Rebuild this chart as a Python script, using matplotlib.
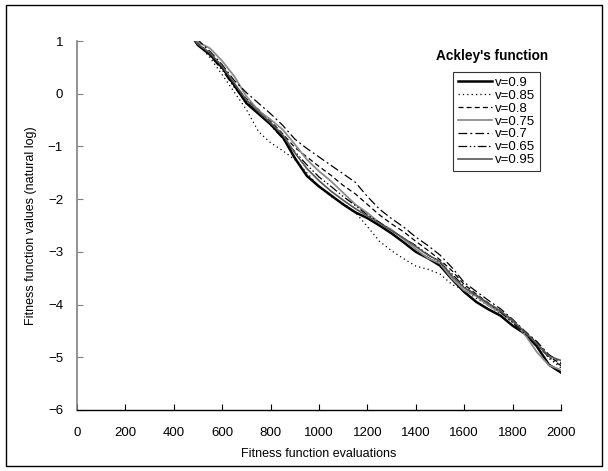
import matplotlib
matplotlib.use("Agg")
import matplotlib.pyplot as plt
from matplotlib.patches import Rectangle

plt.rcParams['font.family'] = ['Liberation Sans', 'DejaVu Sans']

evals = [450, 500, 550, 600, 650, 700, 750, 800, 850, 900, 950, 1000, 1050, 1100,
         1150, 1200, 1250, 1300, 1350, 1400, 1450, 1500, 1550, 1600, 1650, 1700,
         1750, 1800, 1850, 1900, 1950, 2000]

v090 = [1.25, 0.92, 0.74, 0.50, 0.16, -0.18, -0.38, -0.58, -0.82, -1.22, -1.56, -1.76,
        -1.93, -2.10, -2.25, -2.36, -2.50, -2.65, -2.82, -3.00, -3.12, -3.26, -3.52,
        -3.76, -3.95, -4.09, -4.21, -4.40, -4.55, -4.79, -5.14, -5.29]
v085 = [1.20, 0.95, 0.68, 0.36, 0.03, -0.30, -0.72, -0.93, -1.08, -1.25, -1.50, -1.76,
        -1.95, -2.08, -2.25, -2.52, -2.80, -2.98, -3.13, -3.27, -3.33, -3.42, -3.62,
        -3.72, -3.88, -4.02, -4.17, -4.33, -4.52, -4.72, -5.02, -5.20]
v080 = [1.22, 0.96, 0.76, 0.48, 0.18, -0.10, -0.30, -0.52, -0.76, -1.02, -1.20, -1.38,
        -1.55, -1.74, -1.90, -2.10, -2.30, -2.47, -2.62, -2.80, -2.97, -3.15, -3.36,
        -3.62, -3.80, -3.97, -4.12, -4.30, -4.53, -4.72, -4.98, -5.13]
v075 = [1.15, 0.98, 0.86, 0.62, 0.33, -0.05, -0.32, -0.49, -0.68, -0.96, -1.25, -1.47,
        -1.66, -1.88, -2.10, -2.26, -2.45, -2.58, -2.76, -2.95, -3.12, -3.22, -3.51,
        -3.73, -3.84, -4.02, -4.15, -4.32, -4.56, -4.90, -5.15, -5.24]
v070 = [1.30, 1.02, 0.80, 0.55, 0.25, 0.02, -0.18, -0.38, -0.60, -0.86, -1.04, -1.20,
        -1.36, -1.52, -1.68, -1.95, -2.19, -2.37, -2.53, -2.72, -2.88, -3.06, -3.30,
        -3.58, -3.75, -3.92, -4.08, -4.28, -4.50, -4.70, -4.95, -5.10]
v065 = [1.18, 0.93, 0.72, 0.45, 0.12, -0.15, -0.36, -0.60, -0.85, -1.10, -1.35, -1.58,
        -1.76, -1.95, -2.12, -2.30, -2.44, -2.60, -2.74, -2.88, -3.05, -3.20, -3.42,
        -3.66, -3.83, -3.98, -4.14, -4.34, -4.55, -4.76, -5.00, -5.16]
v095 = [1.20, 0.94, 0.77, 0.52, 0.20, -0.12, -0.34, -0.55, -0.78, -1.12, -1.42, -1.65,
        -1.85, -2.02, -2.18, -2.32, -2.46, -2.60, -2.74, -2.90, -3.06, -3.18, -3.46,
        -3.68, -3.82, -3.98, -4.12, -4.30, -4.52, -4.74, -4.98, -5.06]

labels = ["v=0.9", "v=0.85", "v=0.8", "v=0.75", "v=0.7", "v=0.65", "v=0.95"]
series = [v090, v085, v080, v075, v070, v065, v095]
styles = [
    dict(color="black", lw=1.8, ls="-"),
    dict(color="black", lw=0.9, ls=(0, (1, 2.5))),
    dict(color="black", lw=0.9, ls=(0, (4, 2.5))),
    dict(color="#8c8c8c", lw=1.3, ls="-"),
    dict(color="black", lw=0.9, ls=(0, (7, 2.5, 1.5, 2.5))),
    dict(color="black", lw=0.9, ls=(0, (7, 2, 1.2, 2, 1.2, 2))),
    dict(color="#555555", lw=1.2, ls="-"),
]

fig = plt.figure(figsize=(6.08, 4.71), dpi=100)
ax = fig.add_axes([77/608, 1-410/471, 484/608, 369/471])

for lab, ys, st in zip(labels, series, styles):
    ax.plot(evals, ys, label=lab, **st)

ax.set_xlim(0, 2000)
ax.set_ylim(-6, 1)
ax.set_xticks(range(0, 2001, 200))
ax.set_yticks(range(-6, 2))
for s in ("top", "right"):
    ax.spines[s].set_visible(False)
ax.spines["left"].set_color("#808080")
ax.spines["left"].set_linewidth(1.2)
ax.spines["bottom"].set_color("black")
ax.spines["bottom"].set_linewidth(1.0)
ax.tick_params(axis="x", direction="in", length=4, pad=12, labelsize=9.5, color="black")
ax.tick_params(axis="y", direction="in", length=4, pad=10, labelsize=9.5, color="#808080")

ax.set_xlabel("Fitness function evaluations", fontsize=9, labelpad=7)
ax.set_ylabel("Fitness function values (natural log)", fontsize=9, labelpad=8)

ax.text(0.973, 0.959, "Ackley's function", transform=ax.transAxes, ha="right",
        va="center", fontsize=9.8, fontweight="bold")

leg = ax.legend(loc="upper left", bbox_to_anchor=(0.777, 0.916), fontsize=9.5,
                frameon=True, fancybox=False, handlelength=2.6, handletextpad=0.25,
                labelspacing=0.05, borderpad=0.35, borderaxespad=0)
leg.get_frame().set_edgecolor("black")
leg.get_frame().set_linewidth(0.8)

fig.patches.append(Rectangle((6/608, 5/471), 596/608, 461/471, transform=fig.transFigure,
                             fill=False, edgecolor="black", lw=1.0))

fig.savefig("out.png", dpi=100)
